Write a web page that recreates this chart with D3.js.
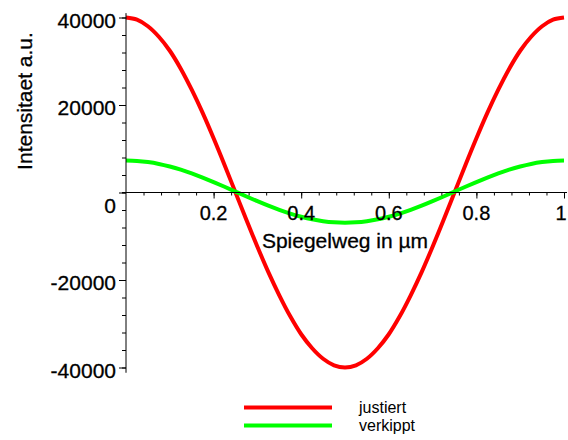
<!DOCTYPE html>
<html>
<head>
<meta charset="utf-8">
<script src="https://cdn.jsdelivr.net/npm/d3@7"></script>
<style>
  html, body { margin: 0; padding: 0; background: #fff; }
  svg { display: block; font-family: "Liberation Sans", Arial, sans-serif; }
  .lbl { fill: #000; stroke: #000; stroke-width: 0.3px; }
</style>
</head>
<body>
<svg id="chart" width="568" height="440"></svg>
<script>
// Mirror travel (µm) at which the intensities were sampled
const spiegelweg = [0, 0.025, 0.05, 0.075, 0.1, 0.125, 0.15, 0.175, 0.2, 0.225, 0.25,
                    0.275, 0.3, 0.325, 0.35, 0.375, 0.4, 0.425, 0.45, 0.475, 0.5,
                    0.525, 0.55, 0.575, 0.6, 0.625, 0.65, 0.675, 0.7, 0.725, 0.75,
                    0.775, 0.8, 0.825, 0.85, 0.875, 0.9, 0.925, 0.95, 0.975, 1];
// Intensity, aligned mirror
const justiert = [40000, 39500, 38000, 35600, 32400, 28300, 23500, 18200, 12400, 6300, 0,
                  -6300, -12400, -18200, -23500, -28300, -32400, -35600, -38000, -39500, -40000,
                  -39500, -38000, -35600, -32400, -28300, -23500, -18200, -12400, -6300, 0,
                  6300, 12400, 18200, 23500, 28300, 32400, 35600, 38000, 39500, 40000];
// Intensity, tilted mirror
const verkippt = [7300, 7210, 6950, 6530, 5940, 5220, 4370, 3420, 2390, 1310, 200,
                  -910, -1990, -3020, -3970, -4820, -5540, -6130, -6550, -6810, -6900,
                  -6810, -6550, -6130, -5540, -4820, -3970, -3020, -1990, -910, 200,
                  1310, 2390, 3420, 4370, 5220, 5940, 6530, 6950, 7210, 7300];

const seriesNames = ["justiert", "verkippt"];
const seriesColors = ["#ff0000", "#00ff00"];
const xTickValues = [0.2, 0.4, 0.6, 0.8, 1];
const yTickValues = [-40000, -20000, 0, 20000, 40000];
const xLabel = "Spiegelweg in µm";
const yLabel = "Intensitaet a.u.";

const svg = d3.select("#chart");

const x = d3.scaleLinear().domain([0, 1]).range([126, 564]);
const y = d3.scaleLinear().domain([-40000, 40000]).range([367.5, 17.5]);

// Curves
const line = d3.line()
  .x((d, i) => x(spiegelweg[i]))
  .y(d => y(d))
  .curve(d3.curveCatmullRom.alpha(0.5));

[justiert, verkippt].forEach((vals, k) => {
  svg.append("path")
    .attr("d", line(vals))
    .attr("fill", "none")
    .attr("stroke", seriesColors[k])
    .attr("stroke-width", 4)
    .attr("stroke-linejoin", "round");
});

// Axis lines
svg.append("line")
  .attr("x1", x(0) - 4).attr("x2", x(1) + 3)
  .attr("y1", y(0)).attr("y2", y(0))
  .attr("stroke", "#000").attr("stroke-width", 1);
svg.append("line")
  .attr("x1", x(0)).attr("x2", x(0))
  .attr("y1", y(41000)).attr("y2", y(-41200))
  .attr("stroke", "#000").attr("stroke-width", 1);

// Y axis: minor and major ticks
const yMinor = d3.range(-40000, 40001, 4000);
const yAx = svg.append("g").attr("transform", `translate(${x(0)},0)`);
yAx.call(d3.axisLeft(y).tickValues(yMinor).tickSize(4).tickFormat(""));
yAx.append("g").call(d3.axisLeft(y).tickValues(yTickValues).tickSize(7).tickFormat(""));
yAx.selectAll(".domain").remove();
yAx.selectAll("line").attr("stroke", "#000");

// Y tick labels
svg.append("g").selectAll("text")
  .data(yTickValues)
  .join("text")
  .attr("class", "lbl")
  .attr("x", 116)
  .attr("y", d => d === 0 ? y(d) + 20 : y(d) + 10)
  .attr("text-anchor", "end")
  .attr("font-size", 21)
  .text(d => d3.format("d")(d).replace("−", "-"));

// X axis: minor and major ticks
const xMinor = d3.range(0.04, 1.001, 0.04);
const xAx = svg.append("g").attr("transform", `translate(0,${y(0)})`);
xAx.call(d3.axisBottom(x).tickValues(xMinor).tickSize(3).tickFormat(""));
xAx.append("g").call(d3.axisBottom(x).tickValues(xTickValues).tickSize(6).tickFormat(""));
xAx.selectAll(".domain").remove();
xAx.selectAll("line").attr("stroke", "#000");

// X tick labels
svg.append("g").selectAll("text")
  .data(xTickValues)
  .join("text")
  .attr("class", "lbl")
  .attr("x", d => d === 1 ? x(d) - 3 : x(d))
  .attr("y", 220)
  .attr("text-anchor", "middle")
  .attr("font-size", 20)
  .text(d => d3.format("~g")(d));

// Axis titles
svg.append("text")
  .attr("class", "lbl")
  .attr("x", 345).attr("y", 248)
  .attr("text-anchor", "middle")
  .attr("font-size", 21)
  .text(xLabel);

svg.append("text")
  .attr("class", "lbl")
  .attr("transform", "translate(32,101) rotate(-90)")
  .attr("text-anchor", "middle")
  .attr("font-size", 21)
  .text(yLabel);

// Legend
const legend = svg.append("g");
seriesNames.forEach((name, k) => {
  const ly = 407.5 + k * 18;
  legend.append("line")
    .attr("x1", 244).attr("x2", 332)
    .attr("y1", ly).attr("y2", ly)
    .attr("stroke", seriesColors[k]).attr("stroke-width", 4);
  legend.append("text")
    .attr("x", 359).attr("y", ly + 5)
    .attr("font-size", 16)
    .attr("fill", "#000")
    .text(name);
});
</script>
</body>
</html>
